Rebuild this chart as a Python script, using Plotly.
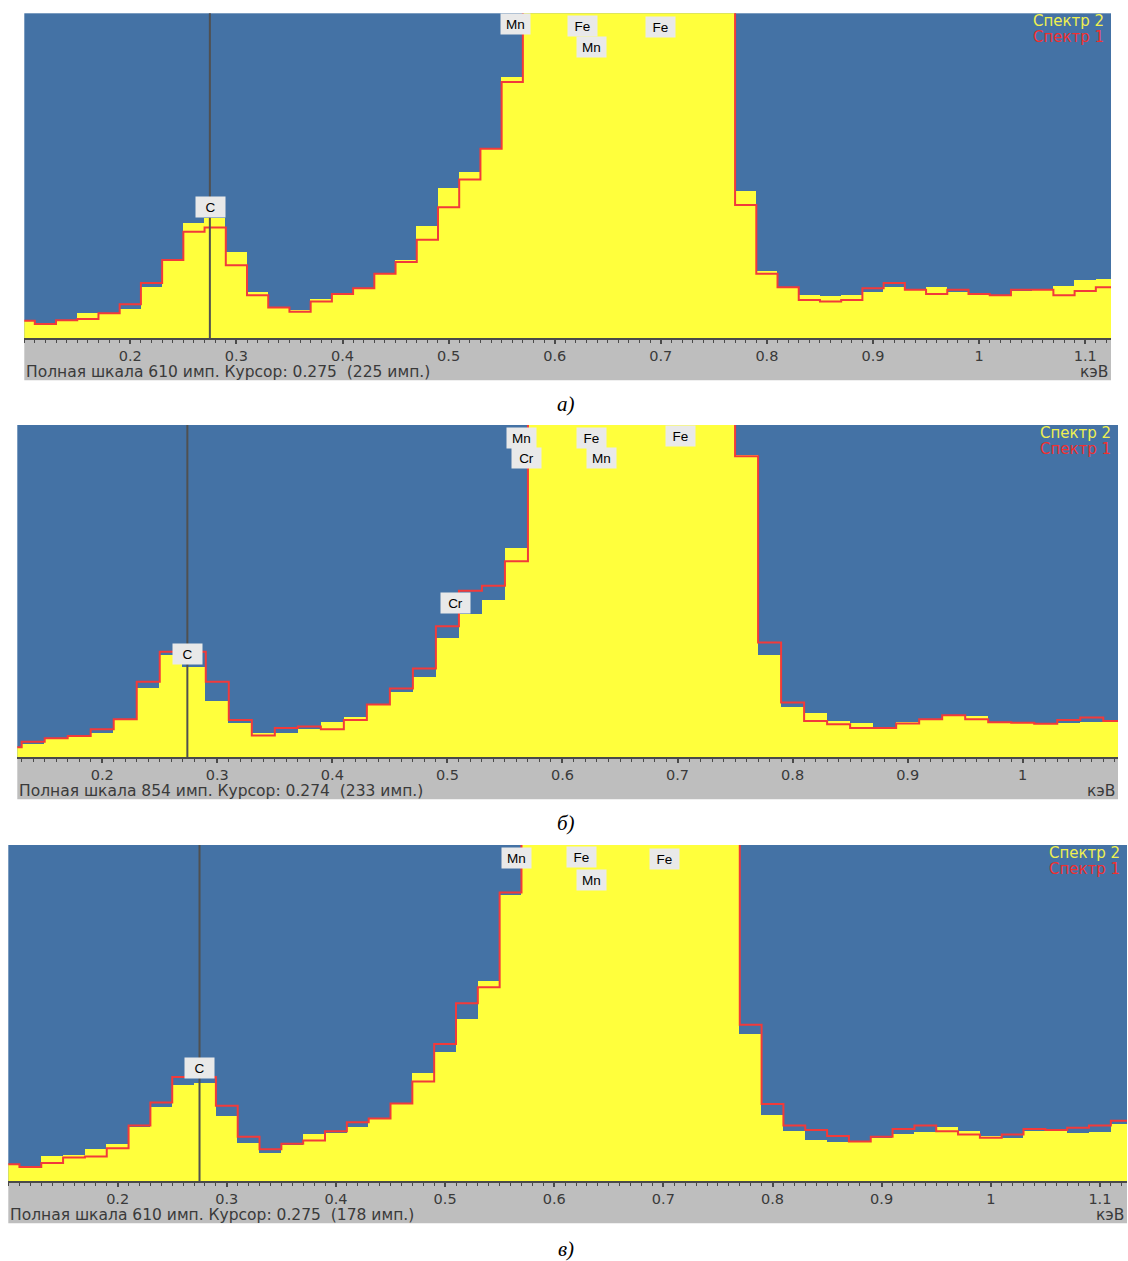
import plotly.graph_objects as go

W, H = 1128, 1261
BIN = 0.02

# ---------------- data (counts per 0.02 keV bin) ----------------
# panel a
E_A = [round(0.10 + BIN * i, 2) for i in range(52)]
S2_A = [33, 24, 34, 46, 47, 55, 95, 147, 216, 225, 162, 86, 58, 53, 74, 80, 93, 121, 147, 211, 282, 312, 356, 489,
        760, 1150, 1480, 1620, 1700, 1900, 2100, 1950, 1500, 900,
        276, 125, 94, 81, 79, 81, 87, 95, 91, 95, 86, 84, 81, 88, 91, 97, 109, 111]
S1_A = [33, 27, 34, 36, 47, 64, 104, 147, 200, 208, 137, 81, 58, 50, 69, 83, 94, 121, 143, 185, 246, 298, 356, 481,
        740, 1120, 1450, 1600, 1680, 1870, 2050, 1900, 1450, 870,
        250, 121, 96, 72, 69, 72, 94, 104, 91, 83, 91, 83, 81, 91, 91, 81, 89, 96]

# panel b
E_B = [round(0.12 + BIN * i, 2) for i in range(49)]
S2_B = [26, 34, 47, 53, 63, 98, 179, 263, 233, 145, 87, 62, 62, 73, 91, 104, 136, 169, 206, 307, 369, 404, 539,
        1100, 1500, 1800, 1900, 2100, 2300, 2200, 1800, 1200,
        777, 263, 129, 113, 93, 87, 77, 90, 96, 106, 106, 91, 90, 87, 89, 91, 91]
S1_B = [26, 40, 49, 55, 72, 98, 194, 271, 271, 194, 96, 56, 75, 79, 72, 96, 136, 177, 228, 337, 428, 441, 504,
        1080, 1480, 1760, 1880, 2060, 2250, 2150, 1760, 1180,
        774, 295, 141, 93, 85, 75, 75, 87, 98, 108, 98, 90, 89, 86, 96, 102, 93]

# panel c
E_C = [round(0.10 + BIN * i, 2) for i in range(52)]
S2_C = [31, 28, 46, 48, 59, 67, 98, 135, 175, 178, 118, 70, 52, 65, 86, 87, 98, 114, 141, 197, 235, 294, 363, 519,
        750, 1130, 1460, 1600, 1690, 1880, 2080, 1930, 1480, 880,
        268, 120, 92, 75, 72, 72, 79, 86, 89, 98, 91, 83, 79, 92, 93, 88, 90, 104]
S1_C = [31, 26, 33, 43, 45, 60, 101, 143, 189, 189, 137, 81, 58, 68, 74, 91, 107, 114, 141, 181, 249, 323, 352, 524,
        760, 1150, 1470, 1610, 1700, 1890, 2090, 1940, 1490, 890,
        284, 140, 101, 93, 82, 72, 81, 95, 101, 91, 85, 79, 85, 95, 93, 97, 101, 110]

TICK_VALS = [0.2, 0.3, 0.4, 0.5, 0.6, 0.7, 0.8, 0.9, 1.0, 1.1]
TICK_TEXT = ["0.2", "0.3", "0.4", "0.5", "0.6", "0.7", "0.8", "0.9", "1", "1.1"]

FULL_SCALE = [610, 854, 610]
CURSOR_KEV = [0.275, 0.274, 0.275]
CURSOR_COUNTS = [225, 233, 178]
CAPTIONS = ["а)", "б)", "в)"]

# element labels: (name, energy keV, vertical position as fraction of plot height)
LABELS_A = [("C", 0.276, 0.405), ("Mn", 0.563, 0.968), ("Fe", 0.626, 0.962),
            ("Mn", 0.635, 0.895), ("Fe", 0.6995, 0.958)]
LABELS_B = [("C", 0.2743, 0.312), ("Cr", 0.5074, 0.465), ("Mn", 0.564, 0.961),
            ("Cr", 0.569, 0.900), ("Fe", 0.6256, 0.961), ("Mn", 0.6335, 0.900),
            ("Fe", 0.703, 0.966)]
LABELS_C = [("C", 0.2748, 0.337), ("Mn", 0.5651, 0.960), ("Fe", 0.6254, 0.963),
            ("Mn", 0.6338, 0.895), ("Fe", 0.7008, 0.959)]

# ---------------- styling / layout ----------------
BLUE = "#4472a5"
YELLOW = "#ffff3c"
RED = "#f23a3a"
GRAY = "#bebebe"
AXIS = "#4a4a4a"
TXT = "#3a3a3a"
SANS = "DejaVu Sans, Liberation Sans, Arial, sans-serif"
ARIAL = "Liberation Sans, Arial, sans-serif"

# pixel geometry: left, right, top, bottom of plot area, x range
GEOM = [
    dict(l=24.3, r=1111.0, t=13.3, b=338.3, xr=[0.1001, 1.1243], cap_y=404),
    dict(l=17.3, r=1118.0, t=425.0, b=757.3, xr=[0.1262, 1.0828], cap_y=823),
    dict(l=8.3, r=1127.0, t=845.0, b=1181.3, xr=[0.0998, 1.1248], cap_y=1249),
]

DATA = [(E_A, S2_A, S1_A, LABELS_A), (E_B, S2_B, S1_B, LABELS_B), (E_C, S2_C, S1_C, LABELS_C)]

fig = go.Figure()
layout = dict(
    width=W, height=H, margin=dict(l=0, r=0, t=0, b=0),
    paper_bgcolor="white", plot_bgcolor=BLUE,
    bargap=0, showlegend=False,
)
shapes = []
annotations = []


def px(x):
    return x / W


def py(y):
    return 1 - y / H


for i, (g, (E, s2, s1, labels)) in enumerate(zip(GEOM, DATA)):
    s = "" if i == 0 else str(i + 1)
    xa, ya = "x" + s, "y" + s
    fig.add_trace(go.Bar(x=E, y=s2, width=BIN, marker=dict(color=YELLOW, line=dict(width=0)),
                         xaxis=xa, yaxis=ya, hoverinfo="skip"))
    xs = [e - BIN / 2 for e in E] + [E[-1] + BIN / 2]
    ys = list(s1) + [s1[-1]]
    fig.add_trace(go.Scatter(x=xs, y=ys, mode="lines", line=dict(color=RED, width=2, shape="hv"),
                             xaxis=xa, yaxis=ya, hoverinfo="skip"))

    layout["xaxis" + s] = dict(
        domain=[px(g["l"]), px(g["r"])], anchor=ya, range=g["xr"],
        tickmode="array", tickvals=TICK_VALS, ticktext=TICK_TEXT,
        ticks="outside", ticklen=4, tickwidth=1.5, tickcolor=AXIS,
        showline=True, linecolor=AXIS, linewidth=1.5, mirror=False,
        showgrid=False, zeroline=False,
        tickfont=dict(family=SANS, size=14.5, color=TXT),
        minor=dict(dtick=0.01, tick0=0, ticks="outside", ticklen=3, tickwidth=1, tickcolor=AXIS, showgrid=False),
        fixedrange=True,
    )
    layout["yaxis" + s] = dict(
        domain=[py(g["b"]), py(g["t"])], anchor=xa, range=[0, FULL_SCALE[i]],
        visible=False, showgrid=False, zeroline=False, fixedrange=True,
    )

    # gray strip beneath the spectrum
    shapes.append(dict(type="rect", xref="paper", yref="paper", layer="below",
                       x0=px(g["l"]), x1=px(g["r"]), y0=py(g["b"] + 42), y1=py(g["b"]),
                       fillcolor=GRAY, line=dict(width=0)))
    # cursor line
    shapes.append(dict(type="line", xref=xa, yref=ya + " domain", x0=CURSOR_KEV[i], x1=CURSOR_KEV[i],
                       y0=0, y1=1, line=dict(color="#505050", width=2)))

    # element labels
    for name, e, yf in labels:
        annotations.append(dict(x=e, y=yf, xref=xa, yref=ya + " domain", text=name, showarrow=False,
                                font=dict(family=ARIAL, size=13.5, color="black"),
                                bgcolor="#e9e9e9", width=29, height=20, borderpad=0,
                                xanchor="center", yanchor="middle"))

    # legend texts
    annotations.append(dict(x=px(g["r"] - 5), y=py(g["t"] + 8), xref="paper", yref="paper",
                            text="Спектр 2", showarrow=False, xanchor="right", yanchor="middle",
                            font=dict(family=SANS, size=15, color="#f0f050")))
    annotations.append(dict(x=px(g["r"] - 5), y=py(g["t"] + 23.5), xref="paper", yref="paper",
                            text="Спектр 1", showarrow=False, xanchor="right", yanchor="middle",
                            font=dict(family=SANS, size=15, color="#f03030")))

    # status line
    annotations.append(dict(x=px(g["l"]), y=py(g["b"] + 33.5), xref="paper", yref="paper",
                            text=f"Полная шкала {FULL_SCALE[i]} имп. Курсор: {CURSOR_KEV[i]:.3f} \u00a0({CURSOR_COUNTS[i]} имп.)",
                            showarrow=False, xanchor="left", yanchor="middle",
                            font=dict(family=SANS, size=15.5, color=TXT)))
    annotations.append(dict(x=px(g["r"]), y=py(g["b"] + 33.5), xref="paper", yref="paper",
                            text="кэВ", showarrow=False, xanchor="right", yanchor="middle",
                            font=dict(family=SANS, size=15.5, color=TXT)))

    # caption
    annotations.append(dict(x=px(566), y=py(g["cap_y"]), xref="paper", yref="paper",
                            text=f"<i>{CAPTIONS[i]}</i>", showarrow=False, xanchor="center", yanchor="middle",
                            font=dict(family="Liberation Serif, Times New Roman, serif", size=21, color="black")))

layout["shapes"] = shapes
layout["annotations"] = annotations
fig.update_layout(**layout)
fig.write_html("out.html", config={"displayModeBar": False},
               post_script="document.body.style.margin='0px';document.body.style.overflow='hidden';")
